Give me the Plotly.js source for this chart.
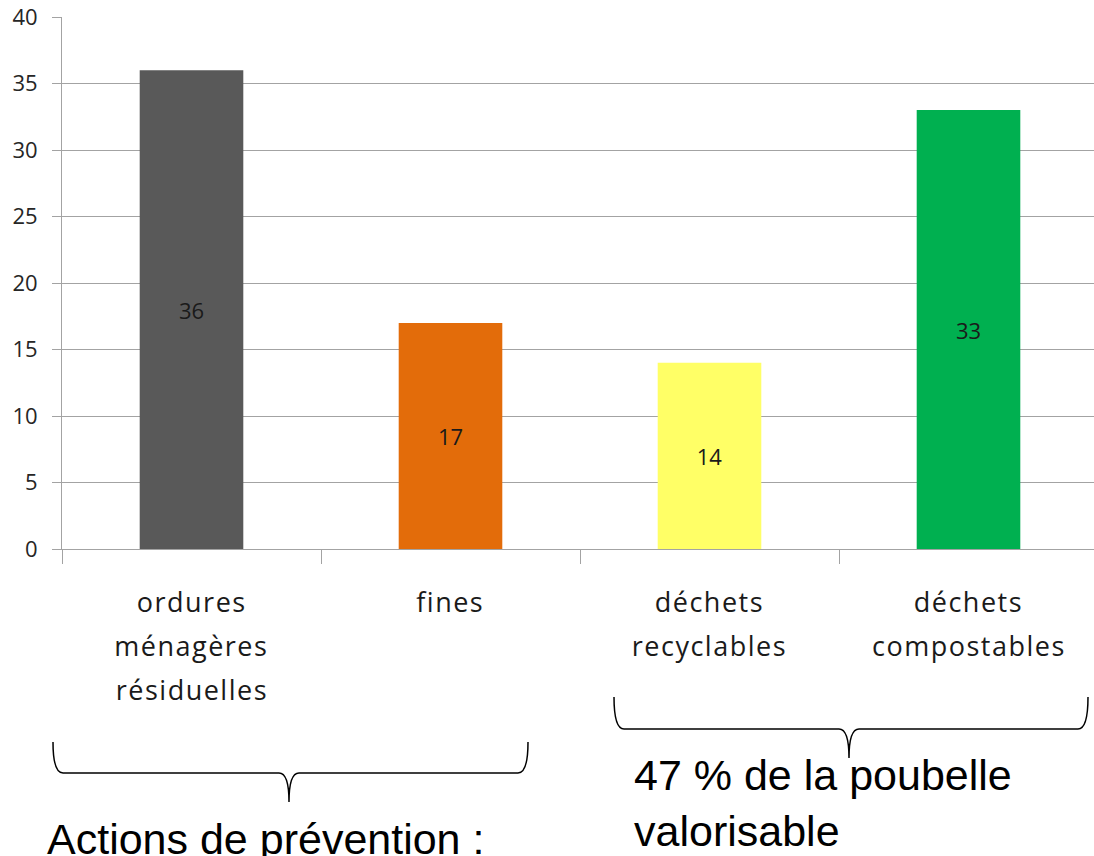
<!DOCTYPE html>
<html>
<head>
<meta charset="utf-8">
<script src="https://cdn.plot.ly/plotly-3.0.1.min.js"></script>
<style>
html,body{margin:0;padding:0;overflow:hidden;background:#fff;}
#chart{width:1098px;height:856px;}
</style>
</head>
<body>
<div id="chart"></div>
<script>
// ---- data ----
const categories = ['ordures ménagères résiduelles', 'fines', 'déchets recyclables', 'déchets compostables'];
const labelLines = [['ordures', 'ménagères', 'résiduelles'], ['fines'], ['déchets', 'recyclables'], ['déchets', 'compostables']];
const values = [36, 17, 14, 33];
const barColors = ['#595959', '#E36C0A', '#FFFF66', '#00B050'];
const yTicks = [0, 5, 10, 15, 20, 25, 30, 35, 40];
const noteRight = '47 % de la poubelle<br>valorisable';
const noteLeft = 'Actions de prévention :';

// ---- geometry helpers (pixel -> paper) ----
const W = 1098, H = 856;
const M = {l: 62, r: 0, t: 17, b: 307};
const PW = W - M.l - M.r, PH = H - M.t - M.b;
const px = x => (x - M.l) / PW;
const py = y => (H - M.b - y) / PH;

function brace(xl, xr, xm, ytop, yline, ytip) {
  const r = 10;
  const P = (x, y) => px(x).toFixed(5) + ',' + py(y).toFixed(5);
  return 'M ' + P(xl, ytop) +
    ' Q ' + P(xl, yline) + ' ' + P(xl + r, yline) +
    ' L ' + P(xm - r, yline) +
    ' Q ' + P(xm, yline) + ' ' + P(xm, ytip) +
    ' Q ' + P(xm, yline) + ' ' + P(xm + r, yline) +
    ' L ' + P(xr - r, yline) +
    ' Q ' + P(xr, yline) + ' ' + P(xr, ytop);
}

const lineYs = [601, 645, 689];
const annotations = [];
labelLines.forEach((lines, i) => {
  lines.forEach((t, j) => {
    annotations.push({
      x: categories[i], xref: 'x', y: py(lineYs[j]), yref: 'paper',
      text: t, showarrow: false, xanchor: 'center', yanchor: 'middle',
      font: {family: 'Open Sans, sans-serif', size: 27, color: '#1a1a1a'}
    });
  });
});
const nCatLabels = annotations.length;
annotations.push({
  x: px(632), xref: 'paper', y: py(749), yref: 'paper', text: noteRight,
  showarrow: false, xanchor: 'left', yanchor: 'top', align: 'left',
  font: {family: 'Liberation Sans, Arial, sans-serif', size: 43, color: '#000'}
});
annotations.push({
  x: px(45), xref: 'paper', y: py(813), yref: 'paper', text: noteLeft,
  showarrow: false, xanchor: 'left', yanchor: 'top', align: 'left',
  font: {family: 'Liberation Sans, Arial, sans-serif', size: 43, color: '#000'}
});

const trace = {
  type: 'bar',
  x: categories,
  y: values,
  width: 0.4,
  marker: {color: barColors, line: {width: 0}},
  text: values.map(String),
  textposition: 'inside',
  insidetextanchor: 'middle',
  textangle: 0,
  textfont: {family: 'Open Sans, sans-serif', size: 22, color: '#1a1a1a'},
  hoverinfo: 'none'
};

const grey = '#a3a3a3';
const layout = {
  width: W, height: H,
  margin: M,
  paper_bgcolor: '#fff', plot_bgcolor: '#fff',
  showlegend: false,
  bargap: 0.6,
  xaxis: {
    type: 'category', range: [-0.5, 3.5],
    showticklabels: false,
    showline: true, linecolor: grey, linewidth: 1,
    ticks: 'outside', tickson: 'boundaries', ticklen: 14, tickcolor: grey, tickwidth: 1,
    showgrid: false, zeroline: false, fixedrange: true
  },
  yaxis: {
    range: [0, 40], tickvals: yTicks, ticktext: yTicks.map(String),
    showline: true, linecolor: grey, linewidth: 1,
    ticks: 'outside', ticklen: 9, tickcolor: grey, tickwidth: 1,
    showgrid: true, gridcolor: grey, gridwidth: 1,
    zeroline: false,
    tickfont: {family: 'Open Sans, sans-serif', size: 22, color: '#262626'},
    ticklabelstandoff: 10,
    fixedrange: true
  },
  shapes: [
    {type: 'path', xref: 'paper', yref: 'paper', path: brace(53, 528, 289, 742, 773, 802),
     line: {color: '#000', width: 1.5}},
    {type: 'path', xref: 'paper', yref: 'paper', path: brace(614, 1088, 849, 697, 729, 758),
     line: {color: '#000', width: 1.5}}
  ],
  annotations: annotations
};

Plotly.newPlot('chart', [trace], layout, {displayModeBar: false, staticPlot: true}).then(gd => {
  for (let i = 0; i < nCatLabels; i++) {
    const t = gd.querySelector('.annotation[data-index="' + i + '"] .annotation-text');
    if (t) t.style.letterSpacing = '1.5px';
  }
});
</script>
</body>
</html>
